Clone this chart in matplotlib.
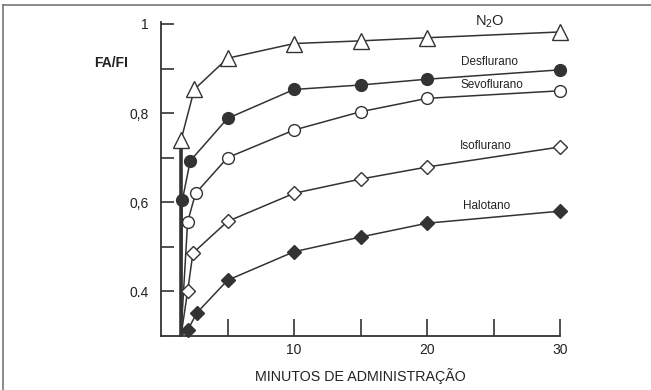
import matplotlib
matplotlib.use('Agg')
import matplotlib.pyplot as plt
from matplotlib.lines import Line2D

plt.rcParams['font.family'] = ['Liberation Sans', 'DejaVu Sans']
plt.rcParams['mathtext.fontset'] = 'custom'
plt.rcParams['mathtext.rm'] = 'Liberation Sans'
plt.rcParams['mathtext.it'] = 'Liberation Sans:italic'

# tempo (min) e FA/FI
t_n2o = [1.5, 2.5, 5, 10, 15, 20, 30]
n2o = [0.739, 0.853, 0.923, 0.956, 0.962, 0.969, 0.982]
t_des = [1.6, 2.2, 5, 10, 15, 20, 30]
des = [0.604, 0.693, 0.788, 0.853, 0.863, 0.876, 0.897]
t_sevo = [2.0, 2.6, 5, 10, 15, 20, 30]
sevo = [0.556, 0.620, 0.700, 0.762, 0.803, 0.833, 0.850]
t_iso = [2.0, 2.4, 5, 10, 15, 20, 30]
iso = [0.400, 0.486, 0.557, 0.620, 0.652, 0.679, 0.724]
t_hal = [2.0, 2.7, 5, 10, 15, 20, 30]
hal = [0.313, 0.352, 0.425, 0.489, 0.522, 0.553, 0.580]

# inicio comum das curvas (subida vertical)
t0 = 1.5
y0 = 0.30

yticks = [0.4, 0.6, 0.8, 1.0]
ytick_labels = ['0.4', '0,6', '0,8', '1']
yminor = [0.5, 0.7, 0.9]
xticks = [10, 20, 30]
xminor = [5, 15, 25]

dark = '#333333'
txt = '#222222'

fig = plt.figure(figsize=(6.51, 3.90), dpi=100)
ax = fig.add_axes([161/651, 54/390, 399/651, 314.3/390])

# linha vertical grossa
ax.plot([t0, t0], [y0, n2o[0]], color=dark, lw=2.6, zorder=3)

series = [
    (t_n2o, n2o, '^', 'white', 11),
    (t_des, des, 'o', dark, 8.5),
    (t_sevo, sevo, 'o', 'white', 8.5),
    (t_iso, iso, 'D', 'white', 7.2),
    (t_hal, hal, 'D', dark, 7.2),
]
for t, v, m, fc, ms in series:
    ax.plot([t0] + t, [y0] + v, color=dark, lw=1.1, zorder=2, clip_on=False)
    ax.plot(t, v, ls='none', marker=m, ms=ms, mfc=fc, mec=dark, mew=1.0,
            zorder=4, clip_on=False)

ax.text(24.7, 1.005, 'N$_2$O', fontsize=10.5, ha='center', va='center', color=txt)
ax.text(24.7, 0.915, 'Desflurano', fontsize=8.5, ha='center', va='center', color=txt)
ax.text(24.9, 0.862, 'Sevoflurano', fontsize=8.5, ha='center', va='center', color=txt)
ax.text(24.4, 0.727, 'Isoflurano', fontsize=8.5, ha='center', va='center', color=txt)
ax.text(24.5, 0.591, 'Halotano', fontsize=8.5, ha='center', va='center', color=txt)

ax.set_xlim(0, 30)
ax.set_ylim(0.3, 1.005)
ax.set_xticks(xticks)
ax.set_xticks(xminor, minor=True)
ax.set_yticks(yticks)
ax.set_yticklabels(ytick_labels)
ax.set_yticks(yminor, minor=True)
ax.tick_params(axis='x', which='both', direction='in', length=12, width=1.2,
               color=dark, pad=5, labelsize=10, labelcolor=txt)
ax.tick_params(axis='y', which='both', direction='in', length=9, width=1.2,
               color=dark, pad=9, labelsize=10, labelcolor=txt)
for s in ['top', 'right']:
    ax.spines[s].set_visible(False)
for s in ['left', 'bottom']:
    ax.spines[s].set_color(dark)
    ax.spines[s].set_linewidth(1.3)

ax.set_xlabel('MINUTOS DE ADMINISTRAÇÃO', fontsize=10.3, color=txt, labelpad=8)
fig.text(111/651, 1 - 63/390, 'FA/FI', fontsize=10, fontweight='bold',
         ha='center', va='center', color=txt)

# moldura
fig.add_artist(Line2D([3/651, 1], [1 - 5/390, 1 - 5/390], color='#777777', lw=1.2))
fig.add_artist(Line2D([3/651, 3/651], [0, 1 - 5/390], color='#777777', lw=1.2))

fig.savefig('out.png', dpi=100)
